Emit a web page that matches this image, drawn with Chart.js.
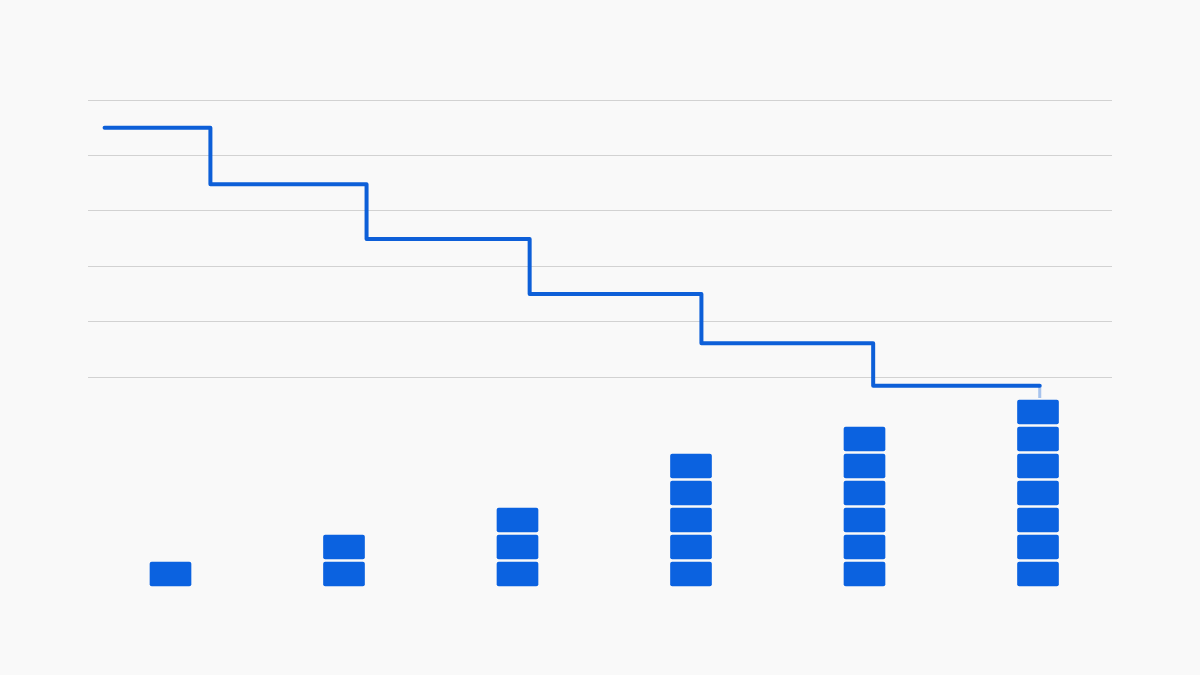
<!DOCTYPE html>
<html lang="en">
  <head>
    <meta charset="UTF-8" />
    <title>Step line with stacked blocks</title>
    <style>
      html,
      body {
        margin: 0;
        padding: 0;
        background: #f9f9f9;
      }

      .wrap {
        width: 1200px;
        height: 675px;
        position: relative;
      }
    </style>
    <script src="https://cdn.jsdelivr.net/npm/chart.js"></script>
  </head>
  <body>
    <div class="wrap">
      <canvas id="stepChart"></canvas>
    </div>
    <script>
      // columns of blocks (x positions) and how many blocks each one holds
      const columns = [1, 2, 3, 4, 5, 6];
      const blockCounts = [1, 2, 3, 5, 6, 7];

      // step line: x where each level starts, and the level itself
      const stepX = [0.62, 1.23, 2.13, 3.07, 4.06, 5.05];
      const stepLevels = [95, 84.8, 74.9, 65, 56.1, 48.4];
      const stepEndX = 6.01;
      const connectorEnd = 46.2; // faint drop onto the top block

      const blockColor = "#0b62e0";
      const lineColor = "#0d5fd8";
      const blockFill = 0.89; // part of one block slot that is filled

      const linePoints = stepX.map((x, i) => ({ x: x, y: stepLevels[i] }));
      linePoints.push({ x: stepEndX, y: stepLevels[stepLevels.length - 1] });

      const maxBlocks = Math.max(...blockCounts);
      const blockSets = [];
      for (let k = 0; k < maxBlocks; k++) {
        const data = [];
        columns.forEach((c, i) => {
          if (blockCounts[i] > k) {
            data.push({ x: c, y: [k, k + blockFill] });
          }
        });
        blockSets.push({
          type: "bar",
          data: data,
          yAxisID: "yb",
          backgroundColor: blockColor,
          borderRadius: 2,
          borderSkipped: false,
          barThickness: 41,
          grouped: false,
        });
      }

      new Chart(document.getElementById("stepChart").getContext("2d"), {
        type: "bar",
        data: {
          datasets: [
            {
              type: "line",
              data: linePoints,
              yAxisID: "y",
              stepped: "before",
              borderColor: lineColor,
              borderWidth: 4,
              borderCapStyle: "round",
              borderJoinStyle: "round",
              pointRadius: 0,
              fill: false,
            },
            {
              type: "line",
              data: [
                { x: stepEndX, y: stepLevels[stepLevels.length - 1] },
                { x: stepEndX, y: connectorEnd },
              ],
              yAxisID: "y",
              borderColor: "rgba(13, 95, 216, 0.35)",
              borderWidth: 3,
              pointRadius: 0,
              fill: false,
            },
            ...blockSets,
          ],
        },
        options: {
          responsive: true,
          maintainAspectRatio: false,
          animation: false,
          layout: {
            padding: { left: 88, right: 88, top: 100, bottom: 21 },
          },
          plugins: {
            legend: { display: false },
            tooltip: { enabled: false },
          },
          scales: {
            x: {
              type: "linear",
              min: 0.5245,
              max: 6.4265,
              offset: false,
              display: false,
            },
            y: {
              min: 0,
              max: 100,
              ticks: { display: false, stepSize: 10 },
              border: { display: false },
              grid: {
                drawTicks: false,
                lineWidth: 1,
                color: (ctx) =>
                  ctx.tick && ctx.tick.value >= 50 ? "#d2d2d2" : "transparent",
              },
            },
            yb: {
              min: -2.5185,
              max: 18,
              display: false,
            },
          },
        },
      });
    </script>
  </body>
</html>
